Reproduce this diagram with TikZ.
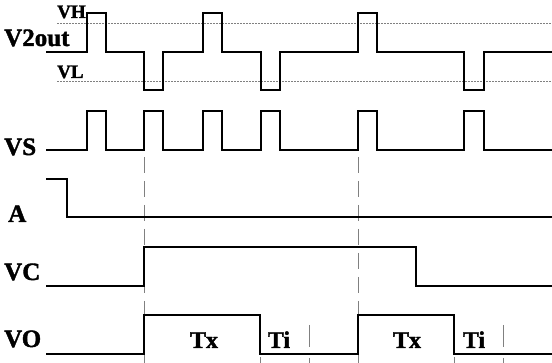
\documentclass[tikz,border=0pt]{standalone}
\usepackage{fontspec}
\setmainfont[BoldFeatures={FakeBold=1.6}]{Liberation Serif}
\begin{document}
\begin{tikzpicture}[x=1pt,y=-1pt,
  wave/.style={line width=1.4pt,line join=miter},
  refline/.style={line width=0.5pt,gray,dash pattern=on 2pt off 1pt},
  vdash/.style={line width=0.6pt,gray,dash pattern=on 16pt off 8pt},
  sdash/.style={line width=0.6pt,gray},
  lbl/.style={font=\bfseries\fontsize{25}{25}\selectfont,anchor=base west,inner sep=0pt},
  slbl/.style={font=\bfseries\fontsize{19}{19}\selectfont,anchor=base west,inner sep=0pt},
  tlbl/.style={font=\bfseries\fontsize{24}{24}\selectfont,anchor=base,inner sep=0pt}]
\useasboundingbox (0,0) rectangle (552,363);
% reference levels
\draw[refline] (57,23) -- (552,23);
\draw[refline] (57,81) -- (552,81);
% labels
\node[lbl] (lv2) at (4,46) {V2out};
\node[slbl] (lvh) at (57,18) {VH};
\node[slbl] (lvl) at (57,78) {VL};
\node[lbl] (lvs) at (4,155) {VS};
\node[lbl] (la) at (8,222) {A};
\node[lbl] (lvc) at (4,280) {VC};
\node[lbl] (lvo) at (4,347) {VO};
\node[tlbl] (tx1) at (204,348) {Tx};
\node[tlbl] (ti1) at (279,348) {Ti};
\node[tlbl] (tx2) at (407,348) {Tx};
\node[tlbl] (ti2) at (474,348) {Ti};
% vertical dashed markers
\draw[vdash] (144,157) -- (144,363);
\draw[vdash] (358,157) -- (358,363);
\draw[sdash] (309,325) -- (309,347) (309,358) -- (309,363);
\draw[sdash] (503,325) -- (503,347) (503,358) -- (503,363);
\draw[sdash] (260,357) -- (260,363);
\draw[sdash] (454,357) -- (454,363);
% V2out
\draw[wave] (46,52) -- (87,52) -- (87,13) -- (106,13) -- (106,52)
  -- (144,52) -- (144,90) -- (163,90) -- (163,52)
  -- (203,52) -- (203,13) -- (222,13) -- (222,52)
  -- (261,52) -- (261,90) -- (280,90) -- (280,52)
  -- (358,52) -- (358,13) -- (377,13) -- (377,52)
  -- (464,52) -- (464,90) -- (484,90) -- (484,52) -- (552,52);
% VS
\draw[wave] (46,150) -- (87,150) -- (87,111) -- (106,111) -- (106,150)
  -- (144,150) -- (144,111) -- (163,111) -- (163,150)
  -- (203,150) -- (203,111) -- (222,111) -- (222,150)
  -- (261,150) -- (261,111) -- (280,111) -- (280,150)
  -- (358,150) -- (358,111) -- (377,111) -- (377,150)
  -- (464,150) -- (464,111) -- (484,111) -- (484,150) -- (552,150);
% A
\draw[wave] (46,179) -- (67,179) -- (67,217) -- (552,217);
% VC
\draw[wave] (46,286) -- (144,286) -- (144,247) -- (416,247) -- (416,286) -- (552,286);
% VO
\draw[wave] (46,354) -- (144,354) -- (144,315) -- (260,315) -- (260,354)
  -- (358,354) -- (358,315) -- (454,315) -- (454,354) -- (552,354);
\end{tikzpicture}
\end{document}
